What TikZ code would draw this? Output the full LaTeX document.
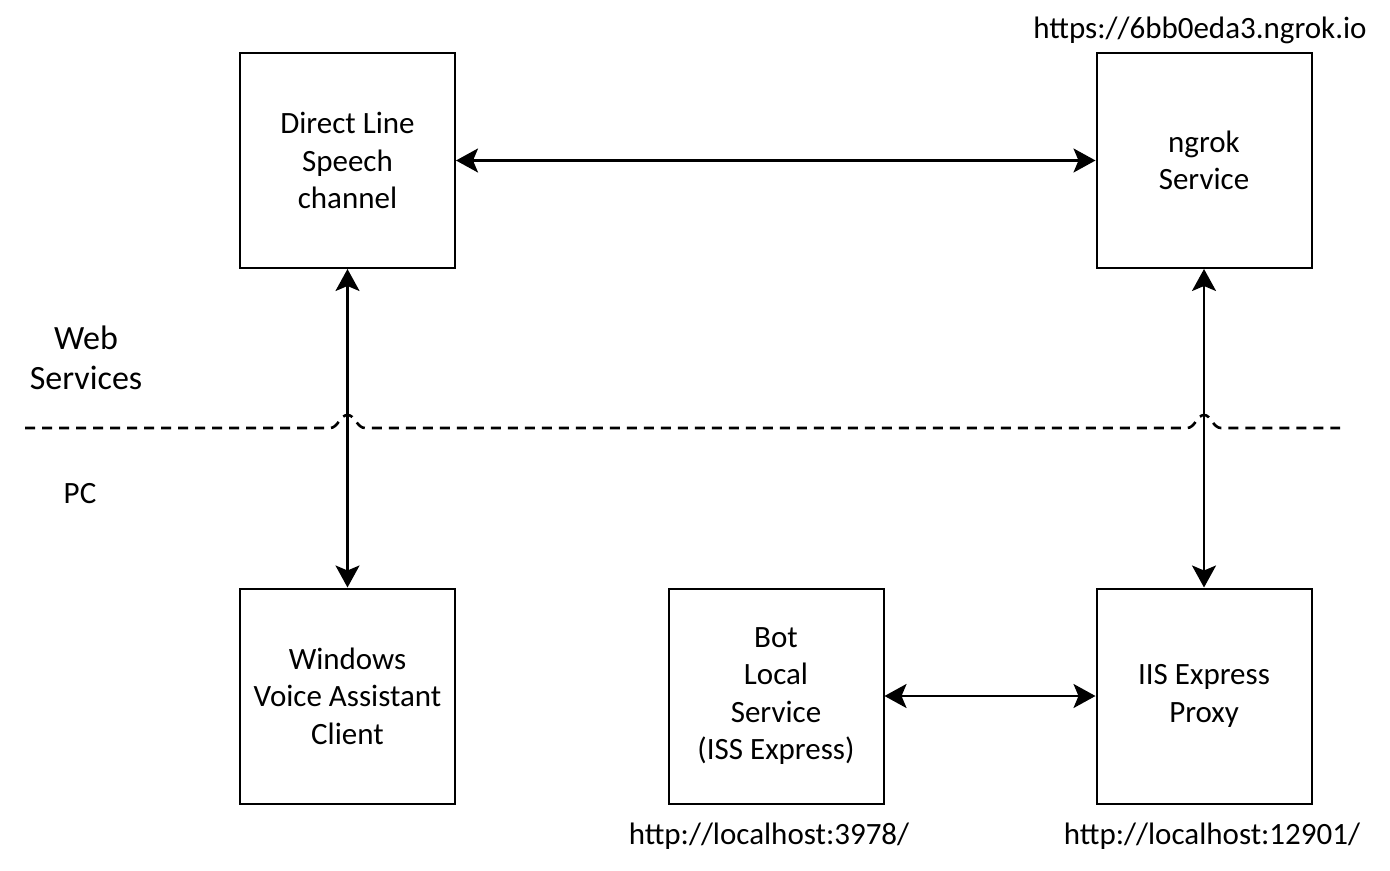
\documentclass[tikz,border=0pt]{standalone}
\usepackage{fontspec}
\setmainfont{Carlito}
\usetikzlibrary{arrows.meta}
\tikzset{
  boxnode/.style={draw, line width=1pt, minimum width=107.5pt, minimum height=107.5pt,
    align=center, font=\fontsize{15.5}{18.7}\selectfont, inner sep=0pt},
  lbl/.style={font=\fontsize{15.5}{18.7}\selectfont, align=center, inner sep=0pt},
  link/.style={line width=1.2pt, {Stealth[length=11pt,width=12pt,inset=2.5pt]}-{Stealth[length=11pt,width=12pt,inset=2.5pt]}}
}
\begin{document}
\begin{tikzpicture}[x=0.5pt,y=-0.5pt]
\useasboundingbox (0,0) rectangle (1390,871);
% boxes
\node [boxnode] (dls) at (347.5,160.5) {Direct Line\\Speech\\channel};
\node [boxnode] (ngrok) at (1204,160.5) {ngrok\\Service};
\node [boxnode] (win) at (347.5,696) {Windows\\Voice Assistant\\Client};
\node [boxnode] (bot) at (776,696) {Bot\\Local\\Service\\(ISS Express)};
\node [boxnode] (iis) at (1204,696) {IIS Express\\Proxy};
% labels
\node [lbl, anchor=east] (url) at (1367,30) {https://6bb0eda3.ngrok.io};
\node [lbl, font=\fontsize{17}{20}\selectfont] (web) at (86,358) {Web\\Services};
\node [lbl] (pc) at (80,494) {PC};
\node [lbl] (botport) at (769,836) {http://localhost:3978/};
\node [lbl] (iisport) at (1212,836) {http://localhost:12901/};
% separation line
\draw [line width=1.3pt, dash pattern=on 5pt off 3.5pt]
  (25,428) -- (330,428) .. controls (338,428) and (340,415) .. (347.5,415)
  .. controls (355,415) and (357,428) .. (365,428) -- (1187,428)
  .. controls (1195,428) and (1197,415) .. (1204,415)
  .. controls (1211,415) and (1213,428) .. (1221,428) -- (1340,428);
% connectors
\draw [link] (dls) -- (ngrok);
\draw [link] (dls) -- (win);
\draw [link] (ngrok) -- (iis);
\draw [link] (bot) -- (iis);
\end{tikzpicture}
\end{document}
